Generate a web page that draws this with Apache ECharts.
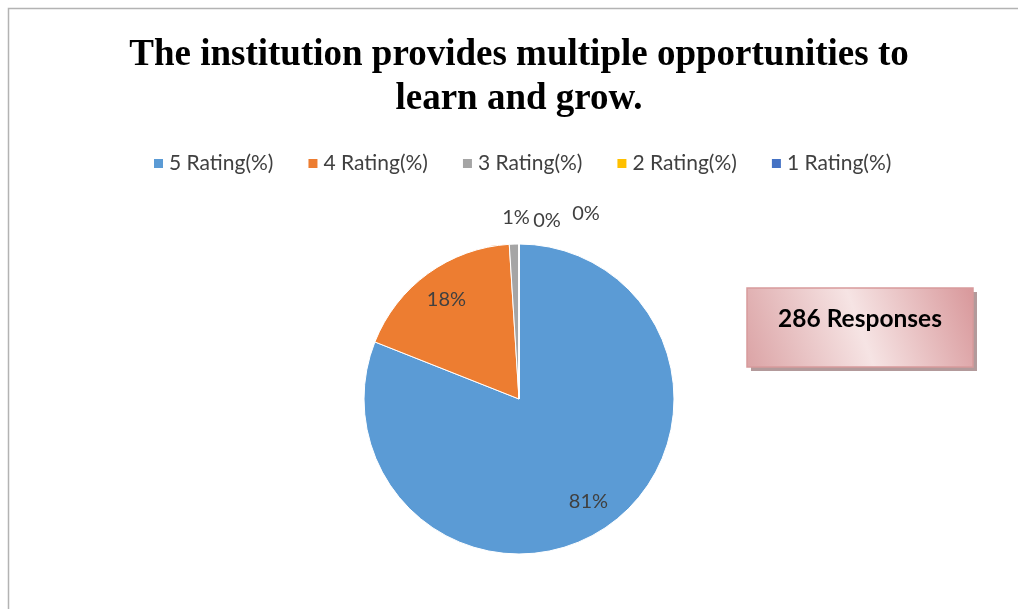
<!DOCTYPE html>
<html>
<head>
<meta charset="utf-8">
<script src="https://cdn.jsdelivr.net/npm/echarts@6/dist/echarts.min.js"></script>
<style>
  html, body { margin: 0; padding: 0; background: #fff; }
  #chart { width: 1018px; height: 609px; }
</style>
</head>
<body>
<div id="chart"></div>
<script>
const titleText = 'The institution provides multiple opportunities to\nlearn and grow.';
const categories = ['5 Rating(%)', '4 Rating(%)', '3 Rating(%)', '2 Rating(%)', '1 Rating(%)'];
const percents = [81, 18, 1, 0, 0];
const colors = ['#5B9BD5', '#ED7D31', '#A5A5A5', '#FFC000', '#4472C4'];
const responsesText = '286 Responses';

const labelColor = '#404040';
const labelFont = 'Lato, "Open Sans", sans-serif';
const pieCenter = [519, 399];
const pieRadius = 155;

// where the tiny slice labels sit, offset from the pie centre (they crowd at 12 o'clock)
const smallLabelOffsets = { 2: [-3, -181], 3: [28, -178], 4: [67, -185] };

const chart = echarts.init(document.getElementById('chart'));

// small slices get their label outside, big ones inside
const pieData = categories.map((name, i) => ({
  name: name,
  value: percents[i],
  itemStyle: { color: colors[i] },
  label: { show: percents[i] < 5 }
}));

const innerLabelData = categories.map((name, i) => ({
  name: name,
  value: percents[i],
  label: { show: percents[i] >= 5 }
}));

chart.setOption({
  animation: false,
  color: colors,
  title: {
    text: titleText,
    left: 514,
    textAlign: 'center',
    top: 28,
    padding: 5,
    textStyle: {
      fontFamily: '"Liberation Serif", "Times New Roman", serif',
      fontWeight: 'bold',
      fontSize: 37,
      lineHeight: 44,
      color: '#000'
    }
  },
  legend: {
    data: categories,
    top: 148,
    left: 147,
    icon: 'rect',
    itemWidth: 11,
    itemHeight: 11,
    itemGap: 33,
    textStyle: { color: labelColor, fontSize: 21, fontFamily: labelFont }
  },
  graphic: [
    {
      type: 'rect',
      shape: { x: 8.5, y: 8.5, width: 1100, height: 700 },
      style: { fill: 'none', stroke: '#b3b3b3', lineWidth: 1.5 },
      silent: true
    },
    {
      type: 'rect',
      shape: { x: 751, y: 292, width: 226, height: 79 },
      style: { fill: '#b39a9b' },
      z: 10
    },
    {
      type: 'rect',
      shape: { x: 747, y: 288, width: 226, height: 79 },
      style: {
        fill: new echarts.graphic.LinearGradient(0, 1, 1, 0, [
          { offset: 0, color: '#dba3a5' },
          { offset: 0.5, color: '#f6e4e4' },
          { offset: 1, color: '#d8979a' }
        ]),
        stroke: '#d79a9c',
        lineWidth: 1.5
      },
      z: 11
    },
    {
      type: 'text',
      x: 860,
      y: 319,
      style: {
        text: responsesText,
        fontFamily: labelFont,
        fontWeight: 'bold',
        fontSize: 24.5,
        fill: '#000',
        align: 'center',
        verticalAlign: 'middle'
      },
      z: 12
    }
  ],
  series: [
    {
      type: 'pie',
      center: pieCenter,
      radius: pieRadius,
      startAngle: 90,
      clockwise: true,
      silent: true,
      itemStyle: { borderColor: '#fff', borderWidth: 1 },
      label: {
        position: 'outside',
        formatter: '{c}%',
        color: labelColor,
        fontSize: 20,
        fontFamily: labelFont
      },
      labelLine: { show: false },
      labelLayout: function (params) {
        const off = smallLabelOffsets[params.dataIndex];
        if (!off) return {};
        return {
          x: pieCenter[0] + off[0],
          y: pieCenter[1] + off[1],
          align: 'center',
          verticalAlign: 'middle'
        };
      },
      data: pieData
    },
    {
      // transparent ring so inside labels sit at ~0.78 of the radius
      type: 'pie',
      center: pieCenter,
      radius: [86, pieRadius],
      startAngle: 90,
      clockwise: true,
      silent: true,
      itemStyle: { color: 'rgba(0,0,0,0)' },
      label: {
        position: 'inside',
        formatter: '{c}%',
        color: labelColor,
        fontSize: 20,
        fontFamily: labelFont
      },
      labelLine: { show: false },
      data: innerLabelData
    }
  ]
});
</script>
</body>
</html>
